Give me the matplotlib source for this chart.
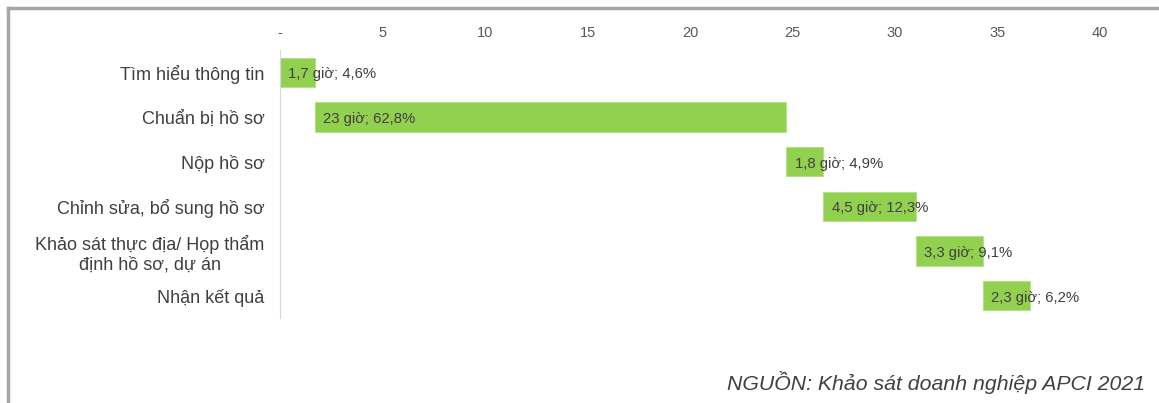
import numpy as np
import matplotlib.pyplot as plt
from matplotlib.lines import Line2D

plt.rcParams['font.family'] = ['Liberation Sans', 'DejaVu Sans']

# các bước thủ tục và thời gian (giờ)
steps = ["Tìm hiểu thông tin", "Chuẩn bị hồ sơ", "Nộp hồ sơ",
         "Chỉnh sửa, bổ sung hồ sơ", "Khảo sát thực địa/ Họp thẩm\nđịnh hồ sơ, dự án",
         "Nhận kết quả"]
hours = [1.7, 23, 1.8, 4.5, 3.3, 2.3]
shares = [4.6, 62.8, 4.9, 12.3, 9.1, 6.2]
labels = ["1,7 giờ; 4,6%", "23 giờ; 62,8%", "1,8 giờ; 4,9%",
          "4,5 giờ; 12,3%", "3,3 giờ; 9,1%", "2,3 giờ; 6,2%"]
ticks = [0, 5, 10, 15, 20, 25, 30, 35, 40]
tick_labels = ["-", "5", "10", "15", "20", "25", "30", "35", "40"]

starts = np.concatenate([[0], np.cumsum(hours)[:-1]])
y = np.arange(len(steps))

fig = plt.figure(figsize=(11.59, 4.03), dpi=100)
ax = fig.add_axes([0.2416, 0.211, 0.9491 - 0.2416, 0.665])

ax.barh(y, hours, left=starts, height=0.66, color='#92D050',
        edgecolor='#b5e08a', linewidth=0.8)
for yi, s, lab in zip(y, starts, labels):
    ax.annotate(lab, (s, yi), xytext=(6, -1.5), textcoords='offset points',
                ha='left', va='center', fontsize=10.7, color='#404040')

ax.set_xlim(0, 40)
ax.set_ylim(len(steps) - 0.5, -0.5)
ax.set_xticks(ticks)
ax.set_xticklabels(tick_labels)
ax.set_yticks(y)
ax.set_yticklabels(steps, multialignment='center')
ax.xaxis.tick_top()
ax.tick_params(axis='x', length=0, pad=7, labelsize=10.5, labelcolor='#595959')
ax.tick_params(axis='y', length=0, pad=11, labelsize=13, labelcolor='#404040')
for side in ['top', 'right', 'bottom']:
    ax.spines[side].set_visible(False)
ax.spines['left'].set_color('#d9d9d9')

# khung viền
fig.add_artist(Line2D([8 / 1159, 1], [1 - 8 / 403, 1 - 8 / 403], color='#a6a6a6', lw=2.5))
fig.add_artist(Line2D([8 / 1159, 8 / 1159], [0, 1 - 8 / 403], color='#a6a6a6', lw=2.5))

fig.text(1145 / 1159, 1 - 383 / 403, "NGUỒN: Khảo sát doanh nghiệp APCI 2021",
         ha='right', va='center', fontsize=15.3, style='italic', color='#404040')

fig.savefig('out.png', dpi=100)
